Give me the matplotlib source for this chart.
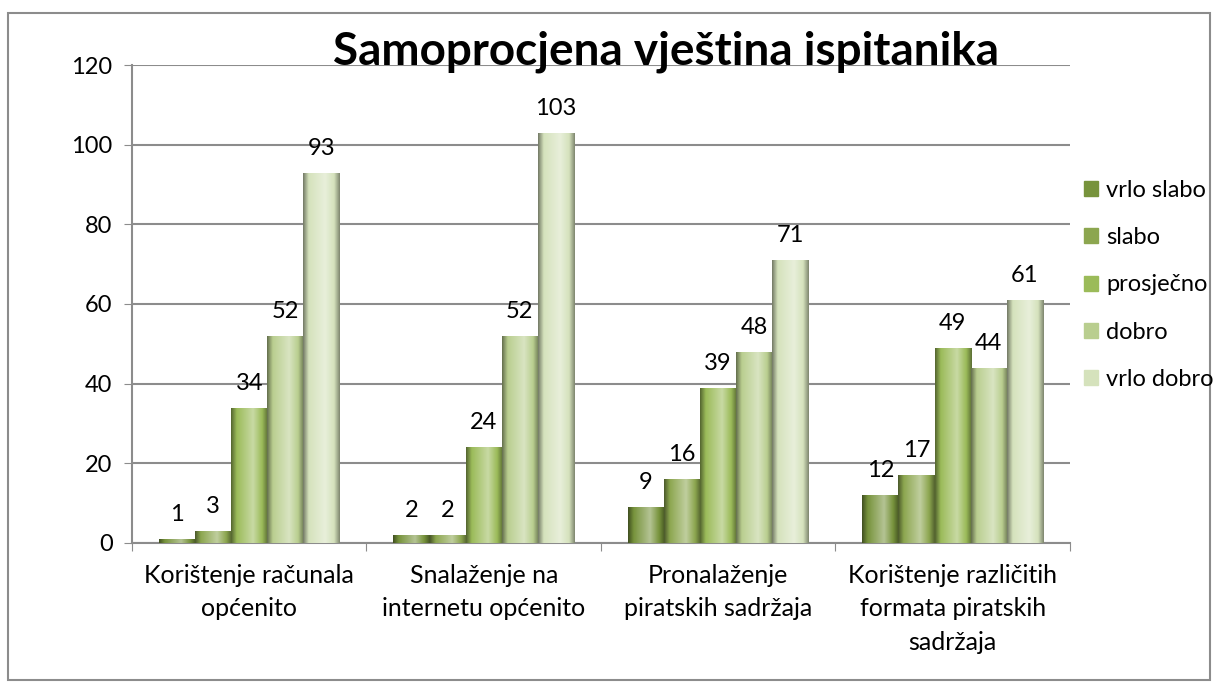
import matplotlib
matplotlib.use("Agg")
import matplotlib.pyplot as plt
import numpy as np
from matplotlib.colors import LinearSegmentedColormap, to_rgb
from matplotlib.patches import Rectangle

plt.rcParams['font.family'] = ['Lato', 'DejaVu Sans']

# data
categories = ["Korištenje računala\nopćenito",
              "Snalaženje na\ninternetu općenito",
              "Pronalaženje\npiratskih sadržaja",
              "Korištenje različitih\nformata piratskih\nsadržaja"]
series = ["vrlo slabo", "slabo", "prosječno", "dobro", "vrlo dobro"]
values = [
    [1, 2, 9, 12],      # vrlo slabo
    [3, 2, 16, 17],     # slabo
    [34, 24, 39, 49],   # prosječno
    [52, 52, 48, 44],   # dobro
    [93, 103, 71, 61],  # vrlo dobro
]
colors = ['#77933C', '#8CA64F', '#9BBB59', '#B9CE8F', '#D5E2BC']
yticks = [0, 20, 40, 60, 80, 100, 120]

fig = plt.figure(figsize=(12.18, 6.88), dpi=100)
# outer chart border
fig.patches.append(Rectangle((8 / 1218, 8 / 688), 1202 / 1218, 667 / 688,
                             transform=fig.transFigure, fill=False,
                             edgecolor='#8c8c8c', linewidth=1.5))
ax = fig.add_axes([0.1084, 0.2108, 0.770, 0.6947])

x = np.arange(len(categories)) + 0.5
bw = 0.154


def shade_cmap(c):
    r = np.array(to_rgb(c))
    dark = r * 0.55
    light = np.clip(r + (1 - r) * 0.45, 0, 1)
    return LinearSegmentedColormap.from_list(
        "s", [(0, dark), (0.15, r), (0.6, light), (0.85, r), (1, dark * 1.1)])


for i, name in enumerate(series):
    bars = ax.bar(x + (i - 2) * bw, values[i], width=bw, color=colors[i],
                  label=name, zorder=3, linewidth=0)
    cmap = shade_cmap(colors[i])
    grad = np.linspace(0, 1, 64).reshape(1, -1)
    for b, v in zip(bars, values[i]):
        x0 = b.get_x()
        im = ax.imshow(grad, cmap=cmap, aspect='auto', zorder=4,
                       extent=(x0, x0 + b.get_width(), 0, b.get_height()))
        im.set_clip_path(b)
        ax.annotate(str(v), (b.get_x() + b.get_width() / 2, b.get_height()),
                    xytext=(0, 10), textcoords='offset points',
                    ha='center', va='bottom', fontsize=17, zorder=5)

ax.set_xlim(0, 4)
ax.set_ylim(0, 120)
ax.set_yticks(yticks)
ax.tick_params(axis='y', labelsize=17, length=6, color='#8c8c8c', pad=8)
ax.set_xticks([0, 1, 2, 3, 4])
ax.set_xticklabels([])
ax.set_xticks(x, minor=True)
ax.set_xticklabels(categories, minor=True, fontsize=18, linespacing=1.55)
ax.tick_params(axis='x', which='major', length=6, color='#8c8c8c')
ax.tick_params(axis='x', which='minor', length=0, pad=15)
ax.grid(axis='y', color='#8c8c8c', linewidth=1.5, zorder=0)
ax.set_axisbelow(True)
for s in ['top', 'right']:
    ax.spines[s].set_visible(False)
for s in ['left', 'bottom']:
    ax.spines[s].set_color('#8c8c8c')
    ax.spines[s].set_linewidth(1.5)

fig.text(0.547, 0.925, "Samoprocjena vještina ispitanika", ha='center',
         va='center', fontsize=33, fontweight='bold')

handles = [Rectangle((0, 0), 1, 1, color=c) for c in colors]
fig.legend(handles, series, loc='upper left', bbox_to_anchor=(0.882, 0.752),
           frameon=False, fontsize=17, handlelength=0.6, handleheight=0.6,
           handletextpad=0.35, labelspacing=1.11, borderaxespad=0)

fig.savefig("out.png", dpi=100)
